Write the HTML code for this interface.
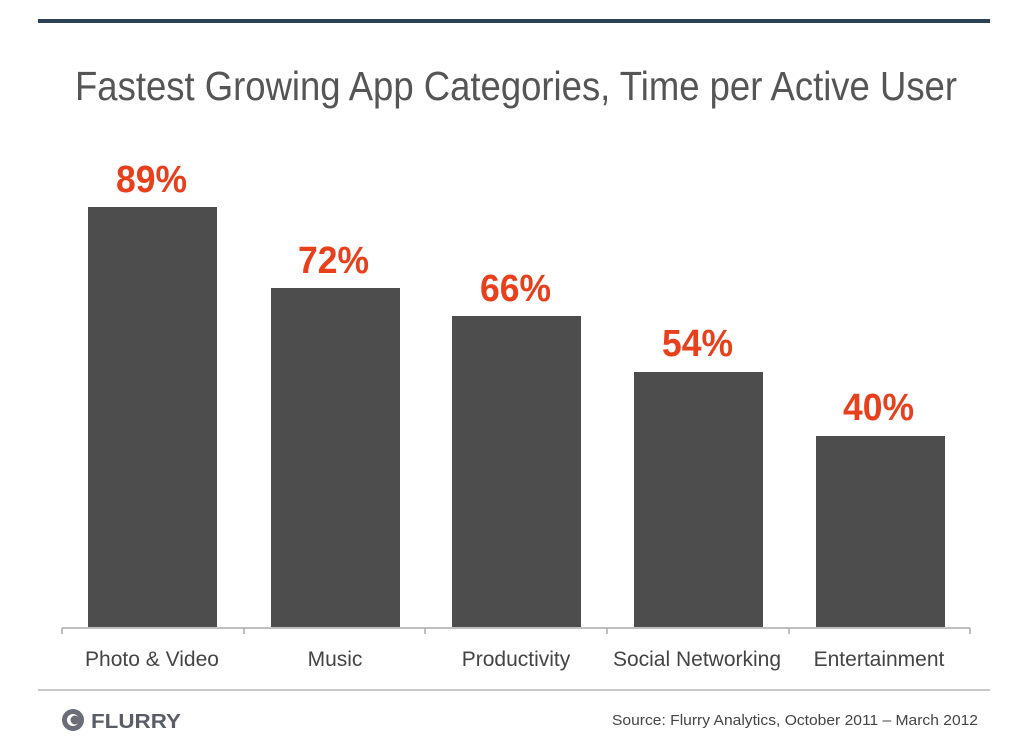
<!DOCTYPE html>
<html><head><meta charset="utf-8"><style>html,body{margin:0;padding:0;background:#fff}svg{display:block}</style></head>
<body>
<svg width="1024" height="738" viewBox="0 0 1024 738" xmlns="http://www.w3.org/2000/svg" font-family="Liberation Sans, sans-serif">
<rect width="1024" height="738" fill="#fff"/>
<rect x="38" y="19" width="952" height="4" fill="#2b4256"/>
<text x="75" y="100" font-size="41" fill="#555" textLength="882" lengthAdjust="spacingAndGlyphs">Fastest Growing App Categories, Time per Active User</text>
<g fill="#4d4d4d">
<rect x="88" y="207" width="129" height="420"/>
<rect x="271" y="288" width="129" height="339"/>
<rect x="452" y="316" width="129" height="311"/>
<rect x="634" y="372" width="129" height="255"/>
<rect x="816" y="436" width="129" height="191"/>
</g>
<g fill="#e8401c" font-weight="bold" font-size="38">
<text x="116" y="192" textLength="71" lengthAdjust="spacingAndGlyphs">89%</text>
<text x="298" y="273" textLength="71" lengthAdjust="spacingAndGlyphs">72%</text>
<text x="480" y="301" textLength="71" lengthAdjust="spacingAndGlyphs">66%</text>
<text x="662" y="356" textLength="71" lengthAdjust="spacingAndGlyphs">54%</text>
<text x="843" y="420" textLength="71" lengthAdjust="spacingAndGlyphs">40%</text>
</g>
<g stroke="#aaa" stroke-width="1.5">
<line x1="62" y1="628" x2="970" y2="628"/>
<line x1="62" y1="628" x2="62" y2="634"/>
<line x1="244" y1="628" x2="244" y2="634"/>
<line x1="425" y1="628" x2="425" y2="634"/>
<line x1="607" y1="628" x2="607" y2="634"/>
<line x1="789" y1="628" x2="789" y2="634"/>
<line x1="970" y1="628" x2="970" y2="634"/>
</g>
<g fill="#444" font-size="21" text-anchor="middle">
<text x="152" y="666">Photo &amp; Video</text>
<text x="335" y="666">Music</text>
<text x="516" y="666">Productivity</text>
<text x="697" y="666">Social Networking</text>
<text x="879" y="666">Entertainment</text>
</g>
<line x1="38" y1="690" x2="990" y2="690" stroke="#c8c8c8" stroke-width="2"/>
<circle cx="73" cy="720" r="11" fill="#6b6e78"/>
<circle cx="73" cy="720" r="6" fill="#fff"/>
<circle cx="75" cy="720" r="4.5" fill="#6b6e78"/>
<text x="91" y="728" font-size="20" font-weight="bold" fill="#5a5d66" textLength="90" lengthAdjust="spacingAndGlyphs">FLURRY</text>
<text x="978" y="725" font-size="15" fill="#444" text-anchor="end" textLength="366" lengthAdjust="spacingAndGlyphs">Source: Flurry Analytics, October 2011 – March 2012</text>
</svg>
</body></html>
